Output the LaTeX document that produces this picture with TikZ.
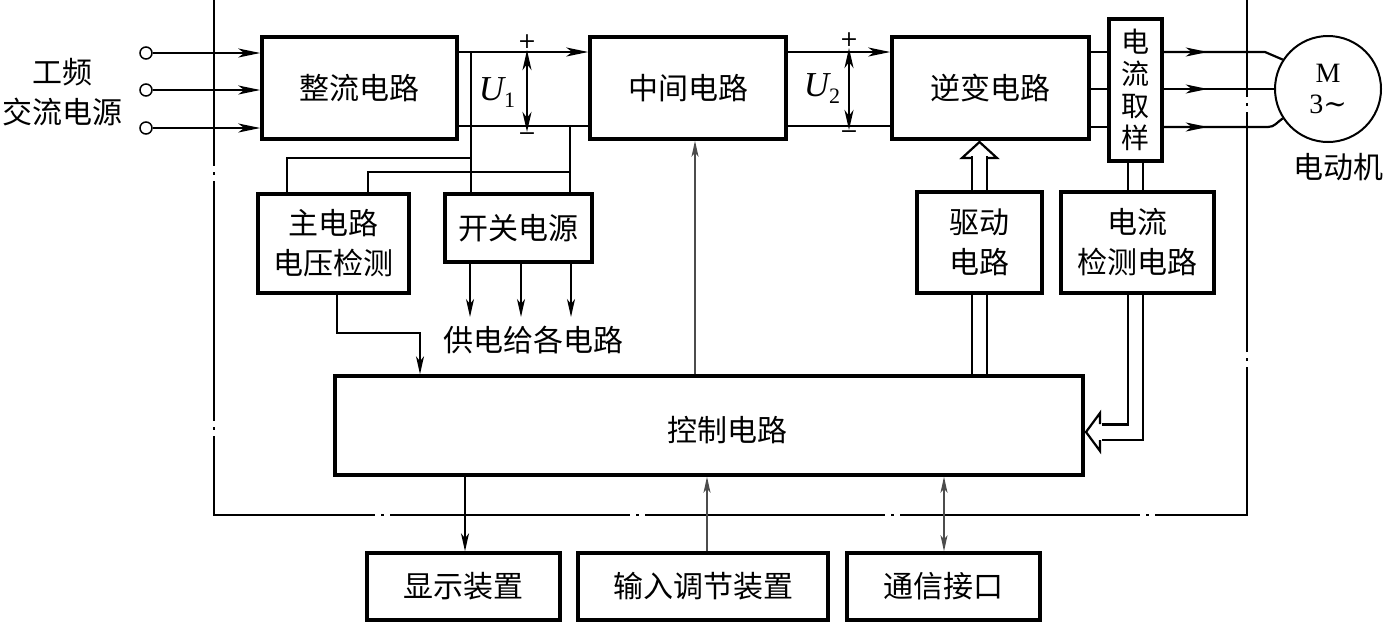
\documentclass[tikz,border=0pt]{standalone}
\usepackage{fontspec}
\setmainfont{Noto Sans CJK SC}
\newfontfamily\latin{Liberation Serif}
\newfontfamily\symf{DejaVu Serif}
\newcommand{\volt}[1]{{\latin\itshape\fontsize{35}{40}\selectfont U}\raisebox{-7pt}{\latin\fontsize{22}{26}\selectfont #1}}
\usetikzlibrary{arrows.meta,calc,decorations.markings}

\begin{document}
\begin{tikzpicture}[x=1pt, y=-1pt,
    every node/.style={font=\fontsize{30}{40}\selectfont},
    block/.style={draw, line width=3.5pt, inner sep=0pt, align=center},
    term/.style={circle, draw, line width=1.5pt, minimum size=12pt, inner sep=0pt},
    pm/.style={font=\symf\fontsize{22}{26}\selectfont, inner sep=1pt},
    wire/.style={line width=2.2pt},
    arr/.style={wire, -{Stealth[length=22pt, width=9pt, inset=6pt]}},
    darr/.style={wire, {Stealth[length=20pt, width=9pt, inset=6pt]}-{Stealth[length=20pt, width=9pt, inset=6pt]}},
    arrs/.style={line width=1.6pt, -{Stealth[length=18pt, width=8pt, inset=5pt]}},
    sig/.style={line width=1.3pt, black!70, -{Stealth[length=16pt, width=7pt, inset=4pt]}},
    sigd/.style={line width=1.3pt, black!70, {Stealth[length=16pt, width=7pt, inset=4pt]}-{Stealth[length=16pt, width=7pt, inset=4pt]}},
    midarr/.style={wire, postaction={decorate}, decoration={markings,
        mark=at position 44pt with {\arrow{Stealth[length=22pt, width=9pt, inset=6pt]}}}},
    dbl/.style={double, double distance=13pt, line width=2.2pt},
    hol/.style={line width=2.2pt, line join=miter},
    frame/.style={line width=2pt, dash pattern=on 240pt off 6pt on 3pt off 6pt, dash phase=74pt}
]
\useasboundingbox (0,0) rectangle (1386,622);

% Converter frame (top runs off the picture)
\draw[frame] (214,0) -- (214,515) -- (1247,515) -- (1247,0);

% Mains input
\node[align=center] (src) at (62,92) {工频\\交流电源};
\foreach \y [count=\i] in {53,90,128}
    \node[term] (t\i) at (146,\y) {};

% Power stage
\node[block, minimum width=195pt, minimum height=102pt] (rect) at (359.5,88) {整流电路};
\node[block, minimum width=196pt, minimum height=102pt] (mid) at (688,88) {中间电路};
\node[block, minimum width=197pt, minimum height=102pt] (inv) at (990.5,88) {逆变电路};
\node[block, minimum width=53pt, minimum height=142pt, font=\fontsize{28}{32}\selectfont] (samp) at (1135.5,90) {电\\流\\取\\样};
\node[circle, draw, line width=2pt, minimum size=106pt, inner sep=0pt, align=center,
      font=\latin\fontsize{28}{31}\selectfont] (mot) at (1328,89) {M\\3{\symf∼}};
\node (motlbl) at (1338,167) {电动机};

% DC link rails
\coordinate (pos) at (0,52);
\coordinate (neg) at (0,126);
\node[pm] (p1) at (527,42) {+};
\node[pm] (m1) at (527,137) {−};
\node (u1) at (497,93) {\volt{1}};
\node[pm] (p2) at (849,40) {+};
\node[pm] (m2) at (849,135) {−};
\node (u2) at (822,89) {\volt{2}};

% Auxiliary blocks
\node[block, minimum width=151pt, minimum height=99pt] (vdet) at (333.5,243.5) {主电路\\电压检测};
\node[block, minimum width=147pt, minimum height=68pt] (sps) at (518.5,228) {开关电源};
\node (feed) at (533,340) {供电给各电路};
\node[block, minimum width=125pt, minimum height=101pt] (drv) at (979.5,242.5) {驱动\\电路};
\node[block, minimum width=153pt, minimum height=101pt] (det) at (1137.5,242.5) {电流\\检测电路};

% Control
\node[block, minimum width=748pt, minimum height=99pt] (ctrl) at (709,425.5) {};
\node (ctrltxt) at (727,430) {控制电路};

% Peripherals
\node[block, minimum width=193pt, minimum height=67pt] (disp) at (463.5,586.5) {显示装置};
\node[block, minimum width=250pt, minimum height=67pt] (inp) at (703,586.5) {输入调节装置};
\node[block, minimum width=193pt, minimum height=67pt] (comm) at (943.5,586.5) {通信接口};

% Power wiring
\foreach \i in {1,2,3}
    \draw[arr] (t\i) -- (rect.west |- t\i);
\draw[arr] (rect.east |- pos) -- (mid.west |- pos);
\draw[wire] (rect.east |- neg) -- (mid.west |- neg);
\draw[arr] (mid.east |- pos) -- (inv.west |- pos);
\draw[wire] (mid.east |- neg) -- (inv.west |- neg);
\draw[darr] (p1) -- (m1);
\draw[darr] (p2) -- (m2);
\foreach \y in {52,89,127}
    \draw[wire] (inv.east |- 0,\y) -- (samp.west |- 0,\y);
\draw[midarr] (samp.east |- 0,52) -- (1265,52) -- (mot.147);
\draw[midarr] (samp.east |- 0,89) -- (mot.west);
\draw[midarr] (samp.east |- 0,127) -- (1268,127) to[out=0, in=213] (mot.213);

% Taps to detection and supply
\coordinate (tapa) at (471,52);
\coordinate (tapb) at (570,126);
\draw[wire] (tapa) -- (tapa |- sps.north);
\draw[wire] (tapb) -- (tapb |- sps.north);
\draw[wire] ([xshift=-46.5pt]vdet.north) |- (tapa |- 0,158);
\draw[wire] ([xshift=34.5pt]vdet.north) |- (tapb |- 0,172);
\foreach \x in {470,521,571}
    \draw[arrs] (sps.south -| \x,0) -- (\x,317);
\draw[arrs] ([xshift=3.5pt]vdet.south) |- (420,333) -- (ctrl.north -| 420,0);

% Control paths
\draw[sig] (ctrl.north -| 695,0) -- (mid.south -| 695,0);
\draw[dbl] (drv.south) -- (drv.south |- ctrl.north);
\draw[dbl] (drv.north) -- ++(0,-34);
\draw[hol] (972,158) -- (962,158) -- (979.5,142) -- (997,158) -- (987,158);
\draw[dbl] (samp.south) -- (samp.south |- det.north);
\draw[dbl] (det.south -| samp.south) |- ($(ctrl.east |- 0,432)+(17,0)$);
\draw[hol] (1100,424) -- (1100,413) -- (1086,432) -- (1100,451) -- (1100,440);
\draw[arrs] (ctrl.south -| 465,0) -- (disp.north -| 465,0);
\draw[sig] (inp.north -| 707,0) -- (ctrl.south -| 707,0);
\draw[sigd] (ctrl.south -| 944,0) -- (comm.north -| 944,0);
\end{tikzpicture}
\end{document}
